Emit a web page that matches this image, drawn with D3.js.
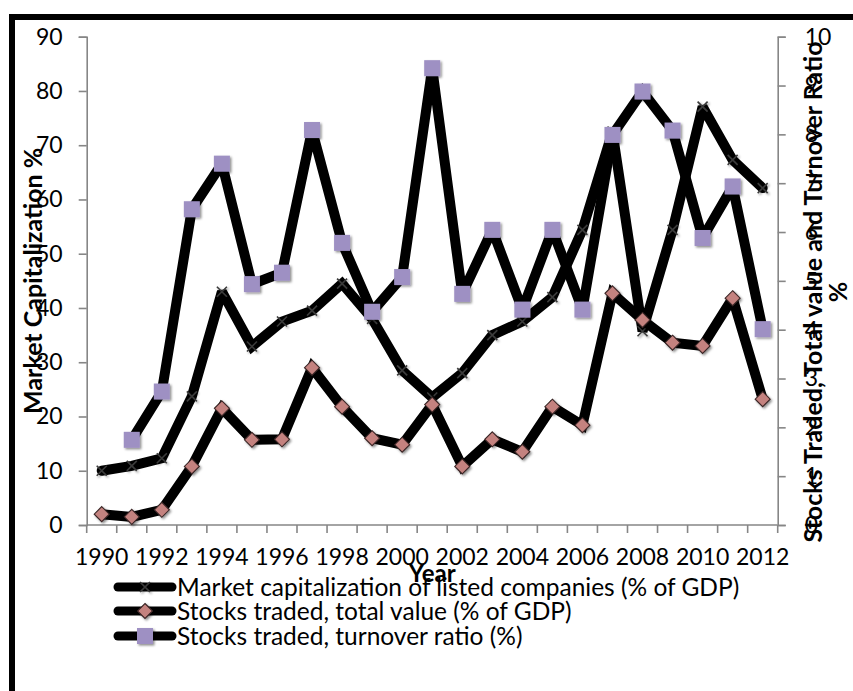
<!DOCTYPE html>
<html>
<head>
<meta charset="utf-8">
<script src="https://cdn.jsdelivr.net/npm/d3@7"></script>
<style>
  body { margin: 0; background: #fff; }
  svg { display: block; font-family: Lato, "Open Sans", sans-serif; }
</style>
</head>
<body>
<div id="chart"></div>
<script>
// categories
const years = [1990, 1991, 1992, 1993, 1994, 1995, 1996, 1997, 1998, 1999, 2000, 2001,
  2002, 2003, 2004, 2005, 2006, 2007, 2008, 2009, 2010, 2011, 2012];
const yearLabels = [1990, 1992, 1994, 1996, 1998, 2000, 2002, 2004, 2006, 2008, 2010, 2012];
// series values
const marketCap = [10.0, 10.9, 12.3, 23.7, 43.0, 32.9, 37.5, 39.5, 44.5, 38.0, 28.5, 23.5,
  28.0, 35.0, 37.5, 42.0, 54.4, 72.5, 35.7, 54.4, 77.1, 67.3, 62.1];
const totalValue = [2.0, 1.5, 2.8, 10.8, 21.5, 15.7, 15.8, 29.0, 21.8, 16.0, 14.8, 22.2,
  10.8, 15.8, 13.5, 21.8, 18.4, 42.7, 37.8, 33.6, 33.0, 41.8, 23.2];
const turnover = [null, 15.7, 24.6, 58.2, 66.6, 44.4, 46.5, 72.8, 52.0, 39.3, 45.7, 84.2,
  42.6, 54.4, 39.7, 54.4, 39.7, 71.9, 79.9, 72.7, 52.9, 62.4, 36.1];
// tick labels
const leftTicks = [0, 10, 20, 30, 40, 50, 60, 70, 80, 90];
const rightTicks = [0, 1, 2, 3, 4, 5, 6, 7, 8, 9, 10];
const seriesNames = [
  "Market capitalization of listed companies (% of GDP)",
  "Stocks traded, total value (% of GDP)",
  "Stocks traded, turnover ratio (%)"
];

const W = 853, H = 691;
const svg = d3.select("#chart").append("svg")
  .attr("width", W).attr("height", H);

const defs = svg.append("defs");
defs.append("filter").attr("id", "shadow")
  .attr("x", "-50%").attr("y", "-50%").attr("width", "200%").attr("height", "200%")
  .append("feDropShadow")
  .attr("dx", 1.5).attr("dy", 1.5).attr("stdDeviation", 1.2)
  .attr("flood-color", "#000").attr("flood-opacity", 0.45);

// outer frame (only left and top edges are visible)
svg.append("rect")
  .attr("x", 12).attr("y", 17).attr("width", 1000).attr("height", 1000)
  .attr("fill", "none").attr("stroke", "#000").attr("stroke-width", 6);

const plotL = 86.7, plotR = 777.7, plotT = 36.7, plotB = 525;
const x = d3.scaleBand().domain(years).range([plotL, plotR]);
const cx = d => x(d) + x.bandwidth() / 2;
const yL = d3.scaleLinear().domain([0, 90]).range([plotB, plotT]);
const yR = d3.scaleLinear().domain([0, 10]).range([plotB, plotT]);

const axisColor = "#868686";

// left axis
const gL = svg.append("g").attr("transform", `translate(${plotL},0)`)
  .call(d3.axisLeft(yL).tickValues(leftTicks).tickSize(8).tickPadding(16));
// right axis
const gR = svg.append("g").attr("transform", `translate(${plotR},0)`)
  .call(d3.axisRight(yR).tickValues(rightTicks).tickSize(8).tickPadding(19));
// bottom axis: labels at every other year
const gB = svg.append("g").attr("transform", `translate(0,${plotB})`)
  .call(d3.axisBottom(x).tickValues(yearLabels).tickSize(0).tickPadding(24));
gB.select(".domain").attr("d", `M${plotL},0H${plotR}`);
// category boundary ticks
gB.selectAll(".bnd").data(years.concat(["end"])).enter().append("line")
  .attr("class", "bnd")
  .attr("x1", d => d === "end" ? plotR : x(d))
  .attr("x2", d => d === "end" ? plotR : x(d))
  .attr("y1", 0).attr("y2", 8);

[gL, gR, gB].forEach(g => {
  g.selectAll(".domain, line").attr("stroke", axisColor).attr("stroke-width", 1.6);
  g.selectAll("text").attr("fill", "#000").attr("font-size", 23)
    .attr("font-family", "Lato, sans-serif");
});

// axis titles
svg.append("text")
  .attr("transform", `translate(42,${(plotT + plotB) / 2}) rotate(-90)`)
  .attr("text-anchor", "middle").attr("font-weight", "bold").attr("font-size", 25)
  .text("Market Capitalization %");

const rt = svg.append("text")
  .attr("transform", `translate(822,292) rotate(-90)`)
  .attr("text-anchor", "middle").attr("font-weight", "bold").attr("font-size", 25);
rt.append("tspan").attr("x", 0).attr("dy", 0)
  .text("Stocks Traded, Total value and Turnover Ratio");
rt.append("tspan").attr("x", 0).attr("dy", 25).text("%");

svg.append("text")
  .attr("x", (plotL + plotR) / 2).attr("y", 574).attr("dy", "0.35em")
  .attr("text-anchor", "middle").attr("font-weight", "bold").attr("font-size", 24)
  .text("Year");

// marker drawers
function drawX(g, px, py) {
  g.append("path")
    .attr("d", `M${px - 5},${py - 5}L${px + 5},${py + 5}M${px - 5},${py + 5}L${px + 5},${py - 5}`)
    .attr("stroke", "#3a3a3a").attr("stroke-width", 1.6).attr("fill", "none")
    .attr("filter", "url(#shadow)");
}
function drawDiamond(g, px, py) {
  const r = 7.5;
  g.append("path")
    .attr("d", `M${px},${py - r}L${px + r},${py}L${px},${py + r}L${px - r},${py}Z`)
    .attr("fill", "#c4827f").attr("stroke", "#3b2626").attr("stroke-width", 1.1)
    .attr("filter", "url(#shadow)");
}
function drawSquare(g, px, py) {
  const s = 16;
  g.append("rect")
    .attr("x", px - s / 2).attr("y", py - s / 2).attr("width", s).attr("height", s)
    .attr("fill", "#9e90c3")
    .attr("filter", "url(#shadow)");
}

const series = [
  { values: marketCap, marker: drawX },
  { values: totalValue, marker: drawDiamond },
  { values: turnover, marker: drawSquare }
];

const line = d3.line()
  .defined(d => d.v != null)
  .x(d => cx(d.year))
  .y(d => yL(d.v));

series.forEach(s => {
  const pts = years.map((year, i) => ({ year: year, v: s.values[i] }));
  const g = svg.append("g");
  g.append("path")
    .attr("d", line(pts))
    .attr("fill", "none").attr("stroke", "#000").attr("stroke-width", 10)
    .attr("stroke-linejoin", "miter").attr("stroke-miterlimit", 2.2)
    .attr("stroke-linecap", "round");
  pts.filter(d => d.v != null).forEach(d => s.marker(g, cx(d.year), yL(d.v)));
});

// legend
const legendY = [587, 611, 636];
series.forEach((s, i) => {
  const g = svg.append("g").attr("transform", `translate(0,${legendY[i]})`);
  g.append("line").attr("x1", 118).attr("x2", 172).attr("y1", 0).attr("y2", 0)
    .attr("stroke", "#000").attr("stroke-width", 9).attr("stroke-linecap", "round");
  s.marker(g, 145, 0);
  g.append("text").attr("x", 177).attr("y", 0).attr("dy", "0.35em")
    .attr("font-size", 24.5).text(seriesNames[i]);
});
</script>
</body>
</html>
